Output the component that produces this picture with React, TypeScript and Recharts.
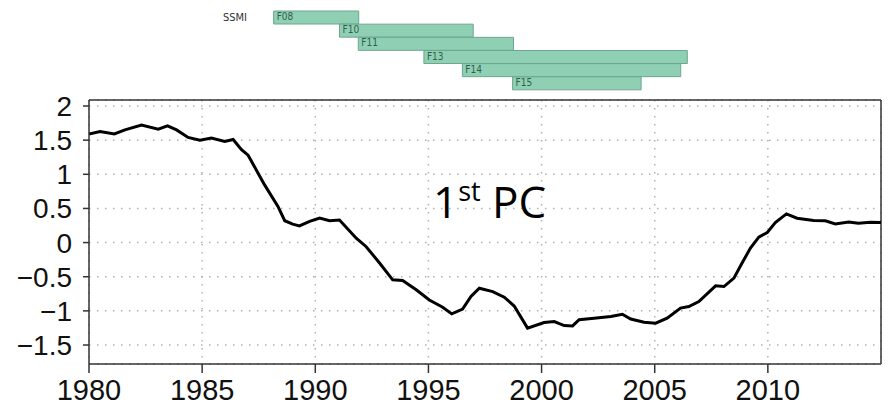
import React from 'react';
import {
  LineChart,
  Line,
  XAxis,
  YAxis,
  CartesianGrid,
  ReferenceLine,
  BarChart,
  Bar,
  LabelList,
} from 'recharts';

// PC1 time series
const years = [
  1980.0, 1980.49, 1981.12, 1981.59, 1982.32, 1983.06, 1983.47, 1983.87, 1984.38, 1984.9,
  1985.41, 1986.0, 1986.37, 1986.74, 1987.03, 1987.76, 1988.35, 1988.65, 1989.0, 1989.3,
  1989.75, 1990.19, 1990.63, 1991.07, 1991.81, 1992.25, 1992.84, 1993.42, 1993.86, 1994.46,
  1995.04, 1995.63, 1996.03, 1996.51, 1996.88, 1997.25, 1997.84, 1998.35, 1998.79, 1999.38,
  2000.11, 2000.56, 2001.0, 2001.37, 2001.66, 2002.32, 2003.06, 2003.57, 2003.94, 2004.53,
  2005.04, 2005.55, 2006.14, 2006.51, 2006.95, 2007.69, 2008.06, 2008.5, 2008.86, 2009.23,
  2009.6, 2009.97, 2010.33, 2010.82, 2011.29, 2012.02, 2012.54, 2012.98, 2013.57, 2014.0,
  2014.53, 2015.0,
];
const pc1 = [
  1.59, 1.625, 1.59, 1.65, 1.72, 1.66, 1.71, 1.65, 1.54, 1.5,
  1.53, 1.48, 1.51, 1.36, 1.28, 0.845, 0.53, 0.32, 0.27, 0.245,
  0.31, 0.36, 0.32, 0.33, 0.065, -0.06, -0.3, -0.546, -0.556, -0.69,
  -0.84, -0.946, -1.044, -0.975, -0.79, -0.668, -0.717, -0.8, -0.93, -1.253,
  -1.17, -1.157, -1.215, -1.22, -1.13, -1.107, -1.083, -1.05, -1.12, -1.165,
  -1.18, -1.107, -0.96, -0.937, -0.864, -0.634, -0.644, -0.52, -0.3, -0.08,
  0.08, 0.146, 0.293, 0.42, 0.357, 0.322, 0.318, 0.274, 0.303, 0.284,
  0.298, 0.293,
];
const xTicks = [1980, 1985, 1990, 1995, 2000, 2005, 2010];
const yTicks = [-1.5, -1, -0.5, 0, 0.5, 1, 1.5, 2];

// SSMI satellite coverage
const sensors = ['F08', 'F10', 'F11', 'F13', 'F14', 'F15'];
const sensorStart = [1988.16, 1991.07, 1991.9, 1994.8, 1996.5, 1998.72];
const sensorEnd = [1991.92, 1996.98, 1998.76, 2006.44, 2006.15, 2004.4];

const series = years.map((year, i) => ({ year, pc: pc1[i] }));
const coverage = sensors.map((name, i) => ({ name, span: [sensorStart[i], sensorEnd[i]] }));

const X_MIN = 1980;
const X_MAX = 2015;
const Y_MIN = -1.778;
const Y_MAX = 2.088;

const tickFont = '"Liberation Sans Narrow", "Arial Narrow", "Liberation Sans", sans-serif';
const frame = '#333';

const SensorLabel = (props: any) => {
  const { x, y, value } = props;
  return (
    <text
      x={x + 3}
      y={y + 9}
      fontSize={10}
      fontFamily='"DejaVu Sans Condensed", "DejaVu Sans", sans-serif'
      fill="#2f5f4c"
    >
      {value}
    </text>
  );
};

export default function App() {
  return (
    <div style={{ position: 'absolute', left: 0, top: 0, width: 888, height: 405, background: '#fff' }}>
      <div style={{ position: 'absolute', left: 0, top: 0 }}>
        <LineChart
          width={888}
          height={405}
          data={series}
          margin={{ top: 100, right: 7, left: 0, bottom: 0 }}
        >
          <CartesianGrid stroke="#b0b0b0" strokeDasharray="1.5 6.5" strokeWidth={1.5} />
          <XAxis
            dataKey="year"
            type="number"
            domain={[X_MIN, X_MAX]}
            ticks={xTicks}
            interval={0}
            allowDataOverflow
            height={41}
            tickSize={9}
            tickMargin={6}
            stroke={frame}
            strokeWidth={1.5}
            tick={{ fill: '#111', fontSize: 29, fontFamily: tickFont }}
          />
          <YAxis
            type="number"
            domain={[Y_MIN, Y_MAX]}
            ticks={yTicks}
            interval={0}
            allowDataOverflow
            width={89}
            tickSize={6}
            tickMargin={11}
            stroke={frame}
            strokeWidth={1.5}
            tickFormatter={(v: number) => String(v).replace('-', '\u2212')}
            tick={{ fill: '#111', fontSize: 28, fontFamily: tickFont }}
          />
          <ReferenceLine y={Y_MAX} stroke={frame} strokeWidth={1.5} />
          <ReferenceLine x={X_MAX} stroke={frame} strokeWidth={1.5} />
          <Line
            type="linear"
            dataKey="pc"
            stroke="#000"
            strokeWidth={3}
            dot={false}
            isAnimationActive={false}
          />
        </LineChart>
      </div>

      <div style={{ position: 'absolute', left: 0, top: 0 }}>
        <BarChart
          width={888}
          height={100}
          data={coverage}
          layout="vertical"
          barCategoryGap={0}
          margin={{ top: 11, right: 7, left: 89, bottom: 10 }}
        >
          <XAxis type="number" domain={[X_MIN, X_MAX]} hide allowDataOverflow />
          <YAxis type="category" dataKey="name" hide />
          <Bar
            dataKey="span"
            fill="#8fd0b5"
            stroke="#6ea68f"
            strokeWidth={1}
            isAnimationActive={false}
          >
            <LabelList dataKey="name" content={<SensorLabel />} />
          </Bar>
        </BarChart>
      </div>

      <svg
        width={888}
        height={405}
        style={{ position: 'absolute', left: 0, top: 0, pointerEvents: 'none' }}
      >
        <text
          x={223}
          y={21}
          fontSize={11}
          fontFamily='"DejaVu Sans Condensed", "DejaVu Sans", sans-serif'
          fill="#333"
        >
          SSMI
        </text>
        <text x={433} y={218} fontSize={44} fontFamily='"Open Sans", sans-serif' fill="#000">
          1
          <tspan dy={-17} fontSize={27}>
            st
          </tspan>
          <tspan dy={17}> PC</tspan>
        </text>
      </svg>
    </div>
  );
}
